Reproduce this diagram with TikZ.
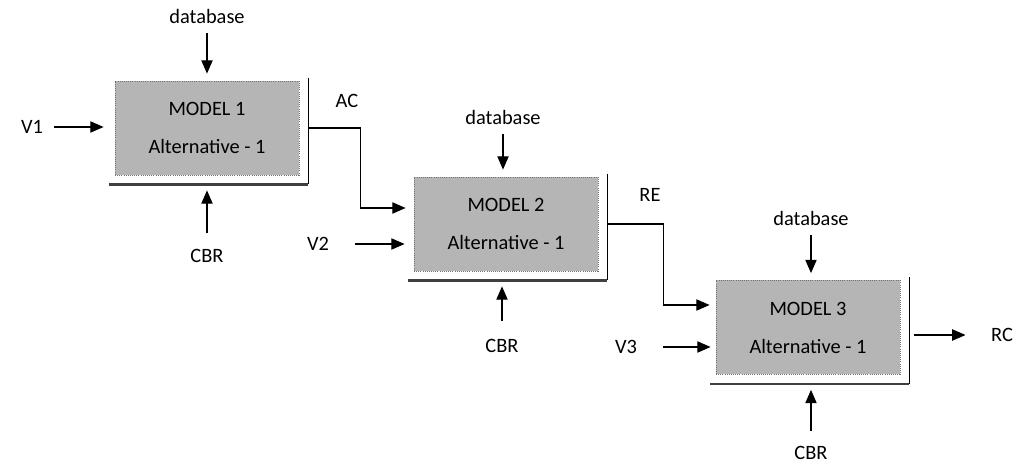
\documentclass[tikz,border=0pt]{standalone}
\usepackage{fontspec}
\setmainfont{Carlito}
\usetikzlibrary{arrows.meta,calc}
\begin{document}
\begin{tikzpicture}[x=0.75pt,y=-0.75pt,
  lbl/.style={font=\fontsize{15.3}{18}\selectfont, inner sep=1pt},
  model/.style={draw=black!55, densely dotted, line width=0.6pt, fill=black!29,
    minimum width=138pt, minimum height=70.5pt, inner sep=0pt, align=center,
    font=\fontsize{15.3}{28.5}\selectfont},
  arr/.style={draw=black, line width=0.8pt, -{Triangle[length=10pt,width=8.5pt]}},
  rimside/.style={draw=black, line width=0.8pt},
  rimbase/.style={draw=black!75, line width=1.8pt}]
\useasboundingbox (0,0) rectangle (1018,466);

% the three model blocks
\node[model] (m1) at (207,128) {MODEL 1\\Alternative - 1};
\node[model] (m2) at (506,224) {MODEL 2\\Alternative - 1};
\node[model] (m3) at (808,327.5) {MODEL 3\\Alternative - 1};

% raised rim: right edge and base line of each block
\foreach \m in {m1,m2,m3}{
  \coordinate (\m r) at ($(\m.south east)+(9,9)$);
  \draw[rimside] ($(\m.north east)+(9,-3)$) -- (\m r);
  \draw[rimbase] ($(\m.south west)+(-6,9)$) -- (\m r);
}

% labels
\node[lbl] (d1) at (207,16) {database};
\node[lbl] (d2) at (503,117) {database};
\node[lbl] (d3) at (811,218) {database};
\node[lbl] (v1) at (32,127) {V1};
\node[lbl] (v2) at (318,244) {V2};
\node[lbl] (v3) at (626,347) {V3};
\node[lbl] (c1) at (207,256) {CBR};
\node[lbl] (c2) at (502,346) {CBR};
\node[lbl] (c3) at (811,453) {CBR};
\node[lbl] (ac) at (347,101) {AC};
\node[lbl] (re) at (650,195) {RE};
\node[lbl] (rc) at (1002,335) {RC};

% database inputs from above
\foreach \d/\m in {d1/m1,d2/m2,d3/m3}
  \draw[arr] ($(\d)+(0,17)$) -- ($(\d |- \m.north)+(0,-7)$);

% variable inputs
\draw[arr] ($(v1)+(22,0)$) -- ($(m1.west)+(-11,-1)$);
\draw[arr] ($(v2)+(37,0)$) -- ($(m2.west)+(-9,20)$);
\draw[arr] ($(v3)+(37,0)$) -- ($(m3.west)+(-5,19.5)$);

% CBR inputs from below
\draw[arr] ($(c1)+(0,-23)$) -- ($(c1 |- m1r)+(0,6)$);
\draw[arr] ($(c2)+(0,-25)$) -- ($(c2 |- m2r)+(0,6)$);
\draw[arr] ($(c3)+(0,-22)$) -- ($(c3 |- m3r)+(0,6)$);

% chained outputs
\draw[arr] (m1r |- m1.east) -- ++(52,0) |- ($(m2.west)+(-8,-16)$);
\draw[arr] (m2r |- m2.east) -- ++(56,0) |- ($(m3.west)+(-6,-22.5)$);
\draw[arr] ($(m3r |- m3.east)+(5,7.5)$) -- ($(rc.west)+(-24,0)$);
\end{tikzpicture}
\end{document}
